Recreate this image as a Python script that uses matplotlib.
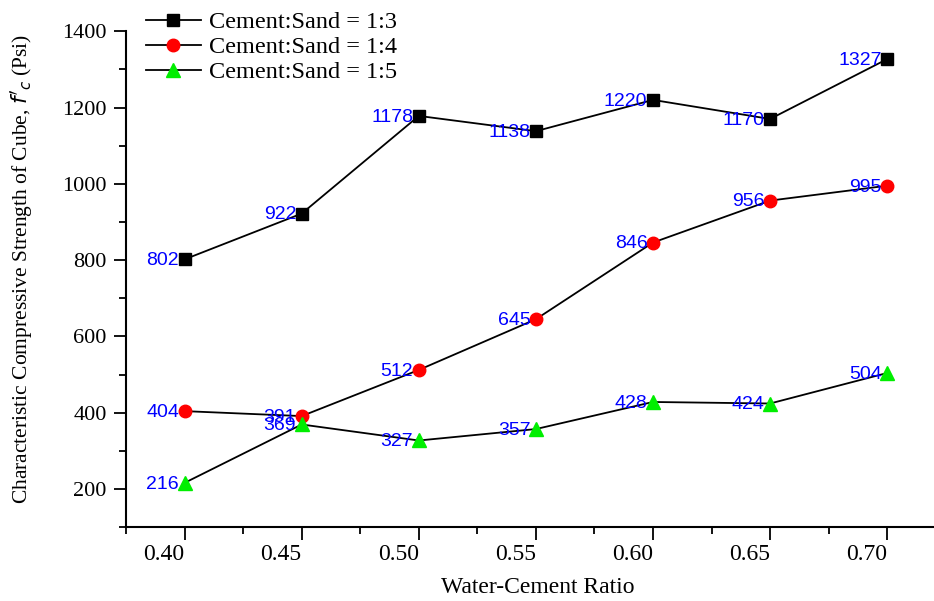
import numpy as np
import matplotlib.pyplot as plt
from matplotlib.ticker import MultipleLocator

# water-cement ratio
wc = [0.40, 0.45, 0.50, 0.55, 0.60, 0.65, 0.70]
# compressive strength (psi)
s13 = [802, 922, 1178, 1138, 1220, 1170, 1327]
s14 = [404, 391, 512, 645, 846, 956, 995]
s15 = [216, 369, 327, 357, 428, 424, 504]

series = [
    (s13, 's', 'black', 'Cement:Sand = 1:3', 8),
    (s14, 'o', 'red', 'Cement:Sand = 1:4', 9),
    (s15, '^', '#00ee00', 'Cement:Sand = 1:5', 10),
]

plt.rc('font', family='Liberation Serif')
fig = plt.figure(figsize=(9.34, 6.01), dpi=100)
ax = fig.add_axes([0.135, 0.123, 0.865, 0.825])

for vals, mk, col, lab, ms in series:
    ax.plot(wc, vals, color='black', lw=1.3, marker=mk, markersize=ms,
            markerfacecolor=col, markeredgecolor=col, label=lab)
    for x, y in zip(wc, vals):
        ax.annotate(str(y), (x, y), xytext=(-4, -1), textcoords='offset points',
                    ha='right', va='center', color='blue', fontsize=14,
                    family='Liberation Sans')

ax.set_xlim(0.375, 0.72)
ax.set_ylim(100, 1400)
ax.xaxis.set_minor_locator(MultipleLocator(0.025))
ax.yaxis.set_major_locator(MultipleLocator(200))
ax.yaxis.set_minor_locator(MultipleLocator(100))
ax.set_xticks(wc)
ax.set_xticklabels(['%.2f' % v for v in wc], ha='right', fontsize=17)
ax.tick_params(which='major', direction='out', length=9, width=1.3, labelsize=16, pad=5)
ax.tick_params(axis='x', which='major', labelsize=17, pad=3)
ax.tick_params(which='minor', direction='out', length=5, width=1.3)
for sp in ['top', 'right']:
    ax.spines[sp].set_visible(False)
for sp in ['left', 'bottom']:
    ax.spines[sp].set_linewidth(1.5)

ax.set_xlabel('Water-Cement Ratio', fontsize=17, va='center')
ax.xaxis.set_label_coords(0.51, -0.121)
ax.set_ylabel("Characteristic Compressive Strength of Cube, $f'_c$ (Psi)", fontsize=15.5,
              va='center')
ax.yaxis.set_label_coords(-0.129, 0.52)

ax.legend(loc='upper left', bbox_to_anchor=(0.012, 1.06), frameon=False, fontsize=17.5,
          handlelength=2.3, handletextpad=0.3, labelspacing=0.12, borderaxespad=0)

fig.savefig('out.png', dpi=100)
